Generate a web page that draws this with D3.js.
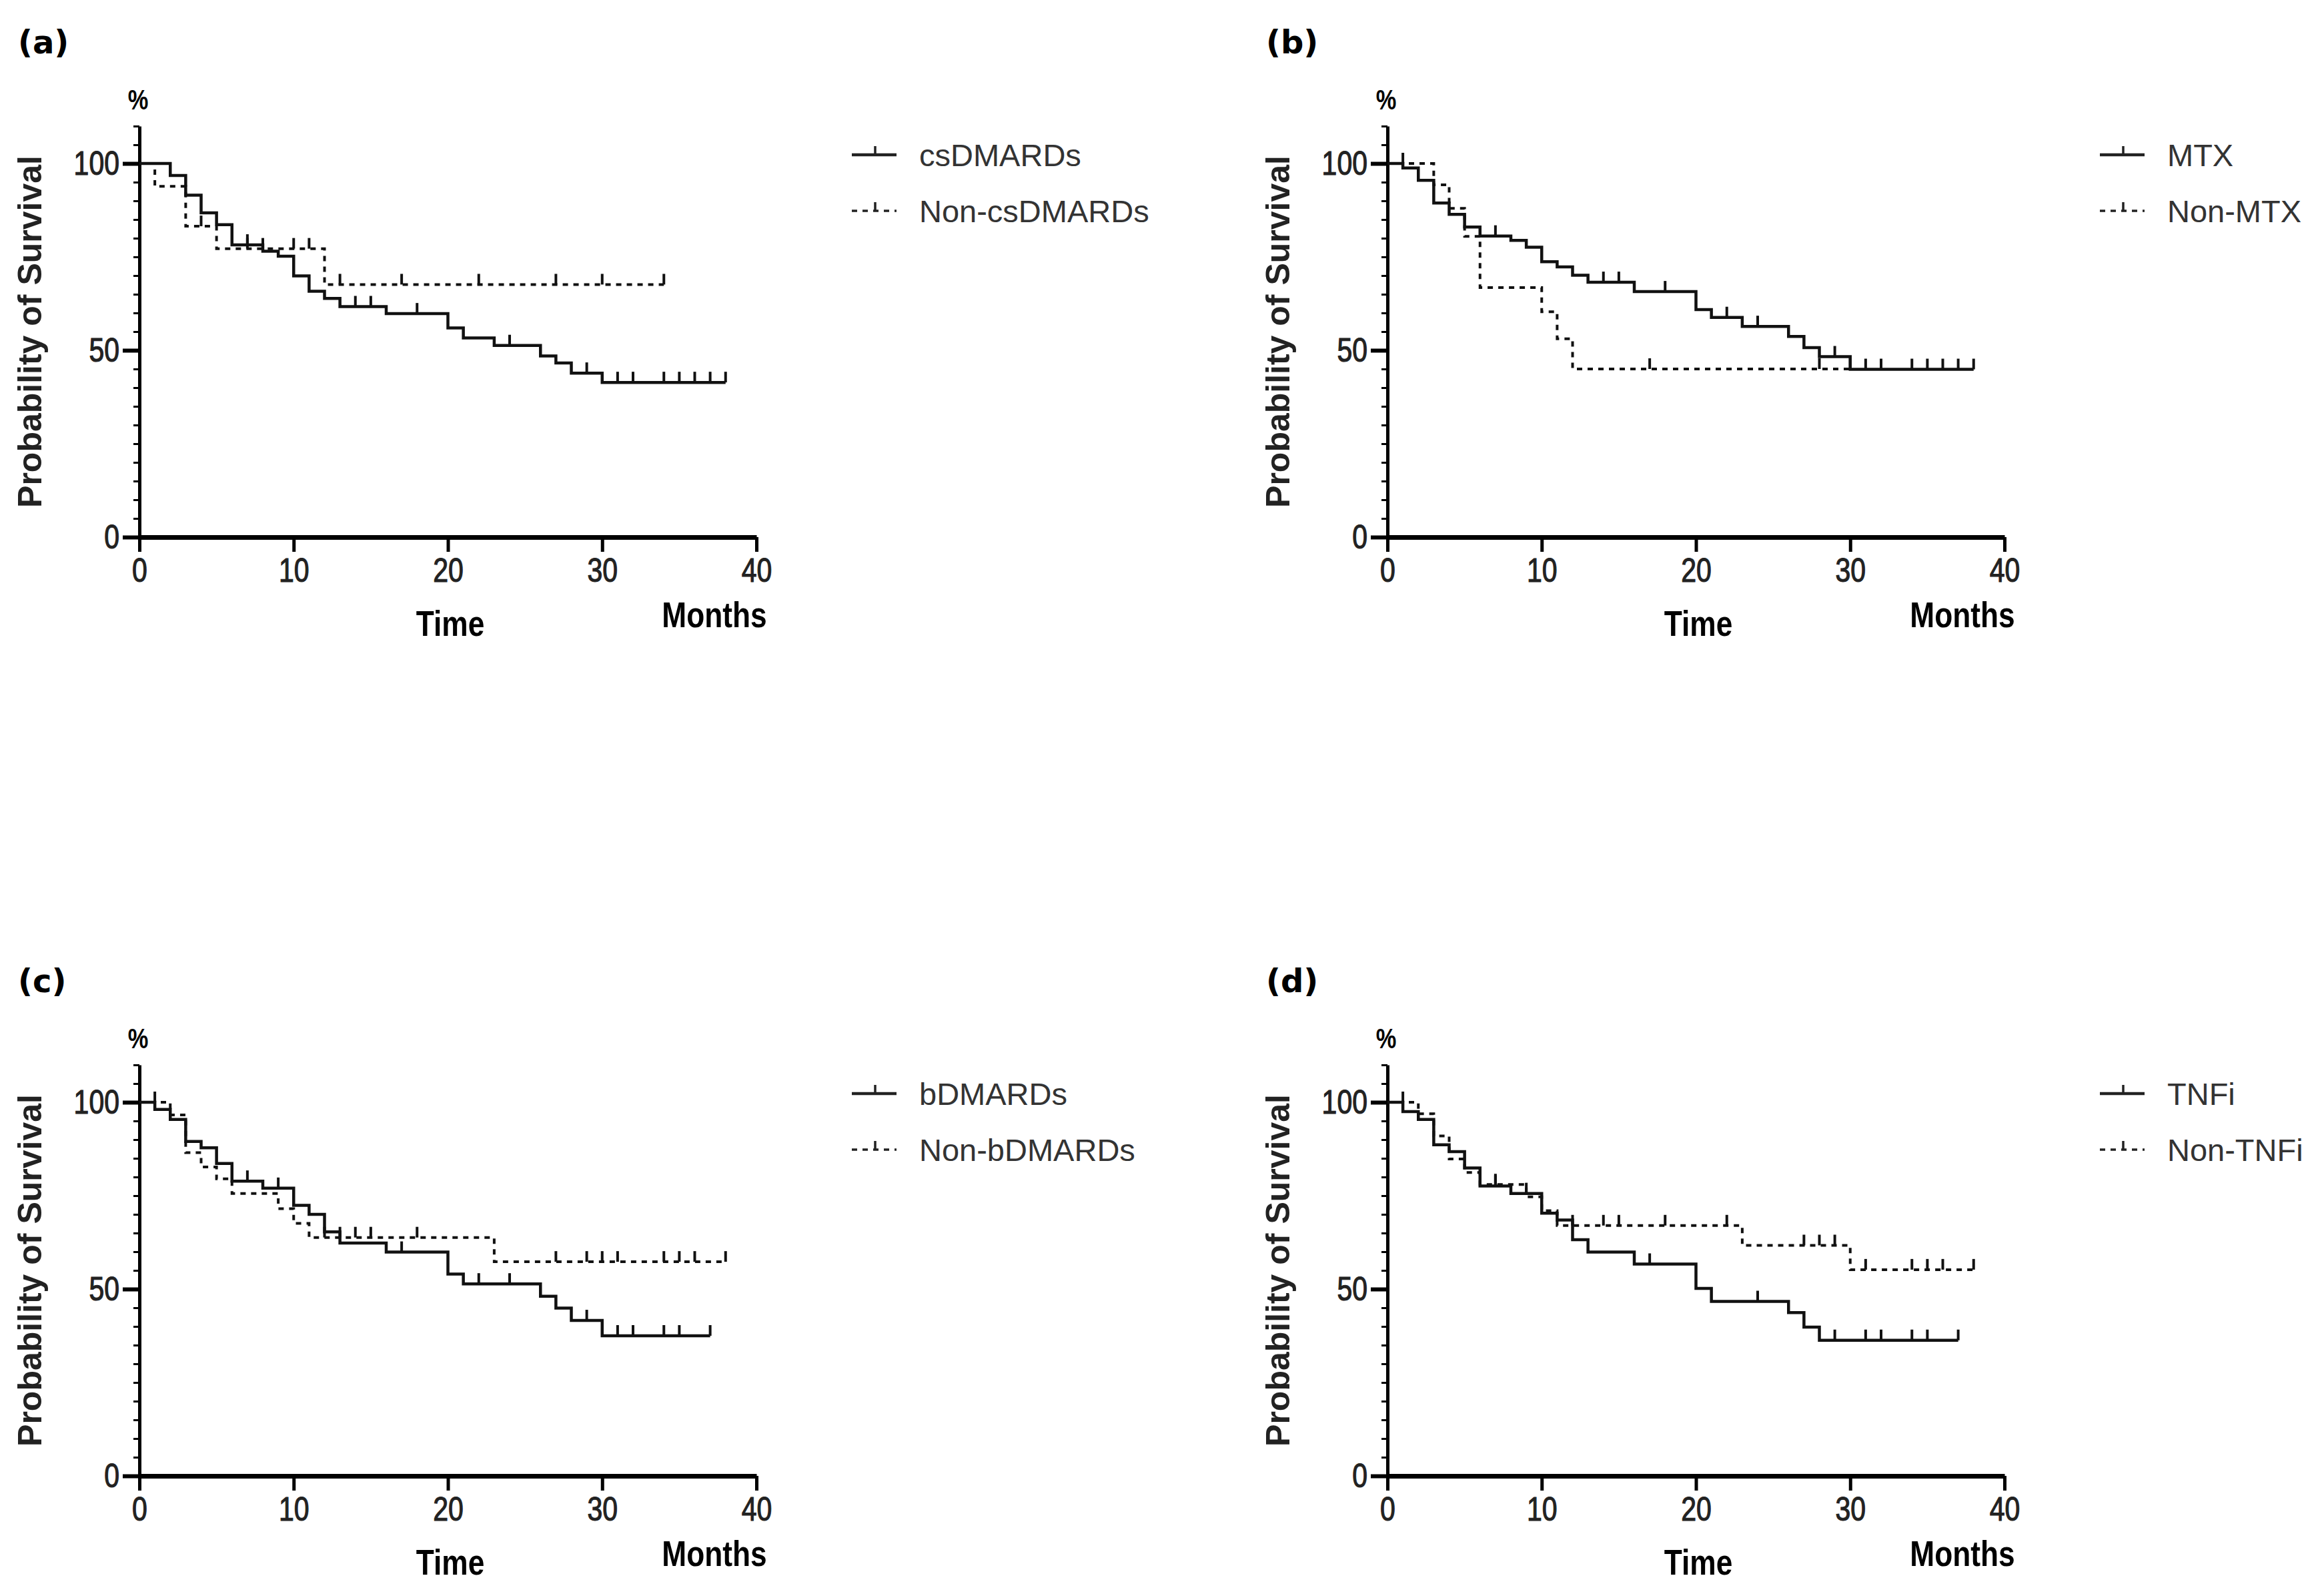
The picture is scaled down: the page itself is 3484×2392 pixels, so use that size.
<!DOCTYPE html>
<html lang="en">
<head>
<meta charset="utf-8">
<title>Kaplan-Meier survival by treatment</title>
<script src="https://cdn.jsdelivr.net/npm/d3@7"></script>
<style>
  body { margin: 0; background: #fff; }
  svg { display: block; background: #fff; }
  .tick text { font-family: "Liberation Sans", Arial, sans-serif; font-size: 50px; fill: #222; stroke: #222; stroke-width: 1.2px; }
</style>
</head>
<body>
<script>
// survival curves: step times, survival (%) after each step, censor marks (last = end of follow-up)
var csT  = [0, 2, 3, 4, 5, 6, 8, 9, 10, 11, 12, 13, 16, 20, 21, 23, 26, 27, 28, 30];
var csS  = [100, 96.8, 91.5, 86.8, 83.6, 78.2, 76.5, 75.2, 69.9, 65.8, 63.9, 61.7, 59.8, 56.0, 53.3, 51.3, 48.5, 46.6, 43.9, 41.4];
var csC  = [7, 14, 15, 18, 24, 29, 31, 32, 34, 35, 36, 37, 38];
var ncsT = [0, 1, 3, 5, 12];
var ncsS = [100, 93.9, 83.2, 77.2, 67.6];
var ncsC = [4, 7, 8, 10, 11, 13, 17, 22, 27, 30, 34];

var mtxT  = [0, 1, 2, 3, 4, 5, 6, 8, 9, 10, 11, 12, 13, 16, 20, 21, 23, 26, 27, 28, 30];
var mtxS  = [100, 98.8, 95.5, 89.4, 86.4, 83.0, 80.6, 79.4, 77.6, 73.7, 72.3, 70.1, 68.2, 65.7, 60.9, 58.8, 56.4, 53.7, 50.7, 48.3, 44.9];
var mtxC  = [7, 14, 15, 18, 22, 24, 29, 31, 32, 34, 35, 36, 37, 38];
var nmtxT = [0, 3, 4, 5, 6, 10, 11, 12];
var nmtxS = [100, 94.3, 88.0, 80.5, 66.8, 60.3, 53.1, 45.0];
var nmtxC = [1, 17, 28, 30];

var bT  = [0, 1, 2, 3, 4, 5, 6, 8, 10, 11, 12, 13, 16, 20, 21, 26, 27, 28, 30];
var bS  = [100, 98.1, 95.4, 89.5, 87.8, 83.6, 78.9, 77.0, 72.4, 70.0, 65.3, 62.3, 59.9, 54.0, 51.4, 48.1, 44.9, 41.6, 37.5];
var bC  = [7, 9, 17, 22, 24, 29, 31, 32, 34, 35, 37];
var nbT = [0, 2, 3, 4, 5, 6, 9, 10, 11, 23];
var nbS = [100, 96.6, 86.5, 82.7, 79.5, 75.6, 71.5, 67.6, 63.8, 57.3];
var nbC = [1, 12, 13, 14, 15, 18, 27, 29, 30, 31, 34, 35, 36, 38];

var tnfT  = [0, 1, 2, 3, 4, 5, 6, 8, 10, 11, 12, 13, 16, 20, 21, 26, 27, 28];
var tnfS  = [100, 97.5, 95.4, 88.6, 86.8, 82.4, 77.6, 75.6, 70.3, 68.5, 63.2, 59.9, 56.7, 50.2, 46.7, 43.7, 39.8, 36.3];
var tnfC  = [7, 9, 17, 24, 29, 31, 32, 34, 35, 37];
var ntnfT = [0, 2, 3, 4, 5, 6, 9, 10, 11, 23, 30];
var ntnfS = [100, 96.9, 91.0, 84.8, 81.2, 78.0, 74.7, 71.0, 67.0, 61.7, 55.2];
var ntnfC = [1, 7, 12, 14, 15, 18, 22, 27, 28, 29, 31, 34, 35, 36, 38];

var xTicks = [0, 10, 20, 30, 40];
var yTicks = [0, 50, 100];

var panels = [
  {tag: "(a)", ox: 0,    oy: 0,    names: ["csDMARDs", "Non-csDMARDs"], solid: [csT, csS, csC],   dash: [ncsT, ncsS, ncsC]},
  {tag: "(b)", ox: 1871, oy: 0,    names: ["MTX", "Non-MTX"],           solid: [mtxT, mtxS, mtxC], dash: [nmtxT, nmtxS, nmtxC]},
  {tag: "(c)", ox: 0,    oy: 1407, names: ["bDMARDs", "Non-bDMARDs"],   solid: [bT, bS, bC],       dash: [nbT, nbS, nbC]},
  {tag: "(d)", ox: 1871, oy: 1407, names: ["TNFi", "Non-TNFi"],         solid: [tnfT, tnfS, tnfC], dash: [ntnfT, ntnfS, ntnfC]}
];

var squeeze = 0.82;  // narrow look of the original's fonts

var svg = d3.select("body").append("svg")
  .attr("width", 3484)
  .attr("height", 2392);

var x = d3.scaleLinear().domain([0, 40]).range([209, 1134]);
var y = d3.scaleLinear().domain([0, 110]).range([805, 189]);

var line = d3.line()
  .x(function(d) { return x(d[0]); })
  .y(function(d) { return y(d[1]); })
  .curve(d3.curveStepAfter);

function survAt(t, s, time) {
  return s[d3.bisectRight(t, time) - 1];
}

function drawCurve(g, cur, dashed) {
  var t = cur[0], s = cur[1], c = cur[2];
  var pts = t.map(function(d, i) { return [d, s[i]]; });
  pts.push([d3.max(c), s[s.length - 1]]);
  g.append("path")
    .datum(pts)
    .attr("d", line)
    .attr("fill", "none")
    .attr("stroke", "#111")
    .attr("stroke-width", dashed ? 4 : 4.5)
    .attr("stroke-dasharray", dashed ? "8,8" : null);
  g.selectAll(null)
    .data(c)
    .enter()
    .append("line")
    .attr("x1", function(d) { return x(d); })
    .attr("x2", function(d) { return x(d); })
    .attr("y1", function(d) { return y(survAt(t, s, d)); })
    .attr("y2", function(d) { return y(survAt(t, s, d)) - 16; })
    .attr("stroke", "#111")
    .attr("stroke-width", 4);
}

function narrowText(g, tx, ty, txt, size, anchor) {
  return g.append("text")
    .attr("transform", "translate(" + tx + "," + ty + ") scale(" + squeeze + ",1)")
    .attr("text-anchor", anchor || "middle")
    .style("font-family", "Liberation Sans, Arial, sans-serif")
    .style("font-weight", "bold")
    .style("font-size", size + "px")
    .text(txt);
}

panels.forEach(function(p) {
  var g = svg.append("g").attr("transform", "translate(" + p.ox + "," + p.oy + ")");

  g.append("text")
    .attr("x", 27).attr("y", 80)
    .style("font-family", "DejaVu Sans, sans-serif")
    .style("font-weight", "bold")
    .style("font-size", "48px")
    .text(p.tag);

  // minor ticks every 5%
  g.append("g")
    .attr("transform", "translate(209,0)")
    .call(d3.axisLeft(y).tickValues(d3.range(5, 111, 5).filter(function(v) { return v % 50 != 0; }))
      .tickSize(9).tickFormat(""))
    .call(function(a) {
      a.select(".domain").remove();
      a.selectAll("line").attr("stroke-width", 3);
    });

  g.append("g")
    .attr("transform", "translate(209,0)")
    .call(d3.axisLeft(y).tickValues(yTicks).tickSize(25).tickSizeOuter(0).tickPadding(5))
    .call(function(a) {
      a.select(".domain").attr("stroke-width", 5);
      a.selectAll("line").attr("stroke-width", 6);
      a.selectAll("text")
        .attr("x", -30 / squeeze)
        .attr("transform", "scale(" + squeeze + ",1)");
    });

  g.append("g")
    .attr("transform", "translate(0,805)")
    .call(d3.axisBottom(x).tickValues(xTicks).tickSize(22).tickSizeOuter(0).tickPadding(10))
    .call(function(a) {
      a.select(".domain").attr("stroke-width", 7);
      a.selectAll("line").attr("stroke-width", 5);
      a.selectAll("text").attr("transform", "scale(" + squeeze + ",1)");
    });

  narrowText(g, 207, 164, "%", 42);

  g.append("text")
    .attr("transform", "translate(62,497) rotate(-90)")
    .attr("text-anchor", "middle")
    .style("font-family", "Liberation Sans, Arial, sans-serif")
    .style("font-weight", "bold")
    .style("font-size", "50px")
    .style("fill", "#222")
    .text("Probability of Survival");

  narrowText(g, 675, 953, "Time", 54);
  narrowText(g, 1071, 940, "Months", 54);

  drawCurve(g, p.dash, true);
  drawCurve(g, p.solid, false);

  // legend
  p.names.forEach(function(name, i) {
    var ly = 232 + i * 84;
    g.append("line")
      .attr("x1", 1277).attr("x2", 1344)
      .attr("y1", ly).attr("y2", ly)
      .attr("stroke", "#222")
      .attr("stroke-width", i ? 3.5 : 4.5)
      .attr("stroke-dasharray", i ? "8,8" : null);
    g.append("line")
      .attr("x1", 1312).attr("x2", 1312)
      .attr("y1", ly).attr("y2", ly - 13)
      .attr("stroke", "#222")
      .attr("stroke-width", 3.5);
    g.append("text")
      .attr("x", 1378).attr("y", ly + 17)
      .style("font-family", "Liberation Sans, Arial, sans-serif")
      .style("font-size", "47px")
      .style("fill", "#333")
      .text(name);
  });
});
</script>
</body>
</html>
